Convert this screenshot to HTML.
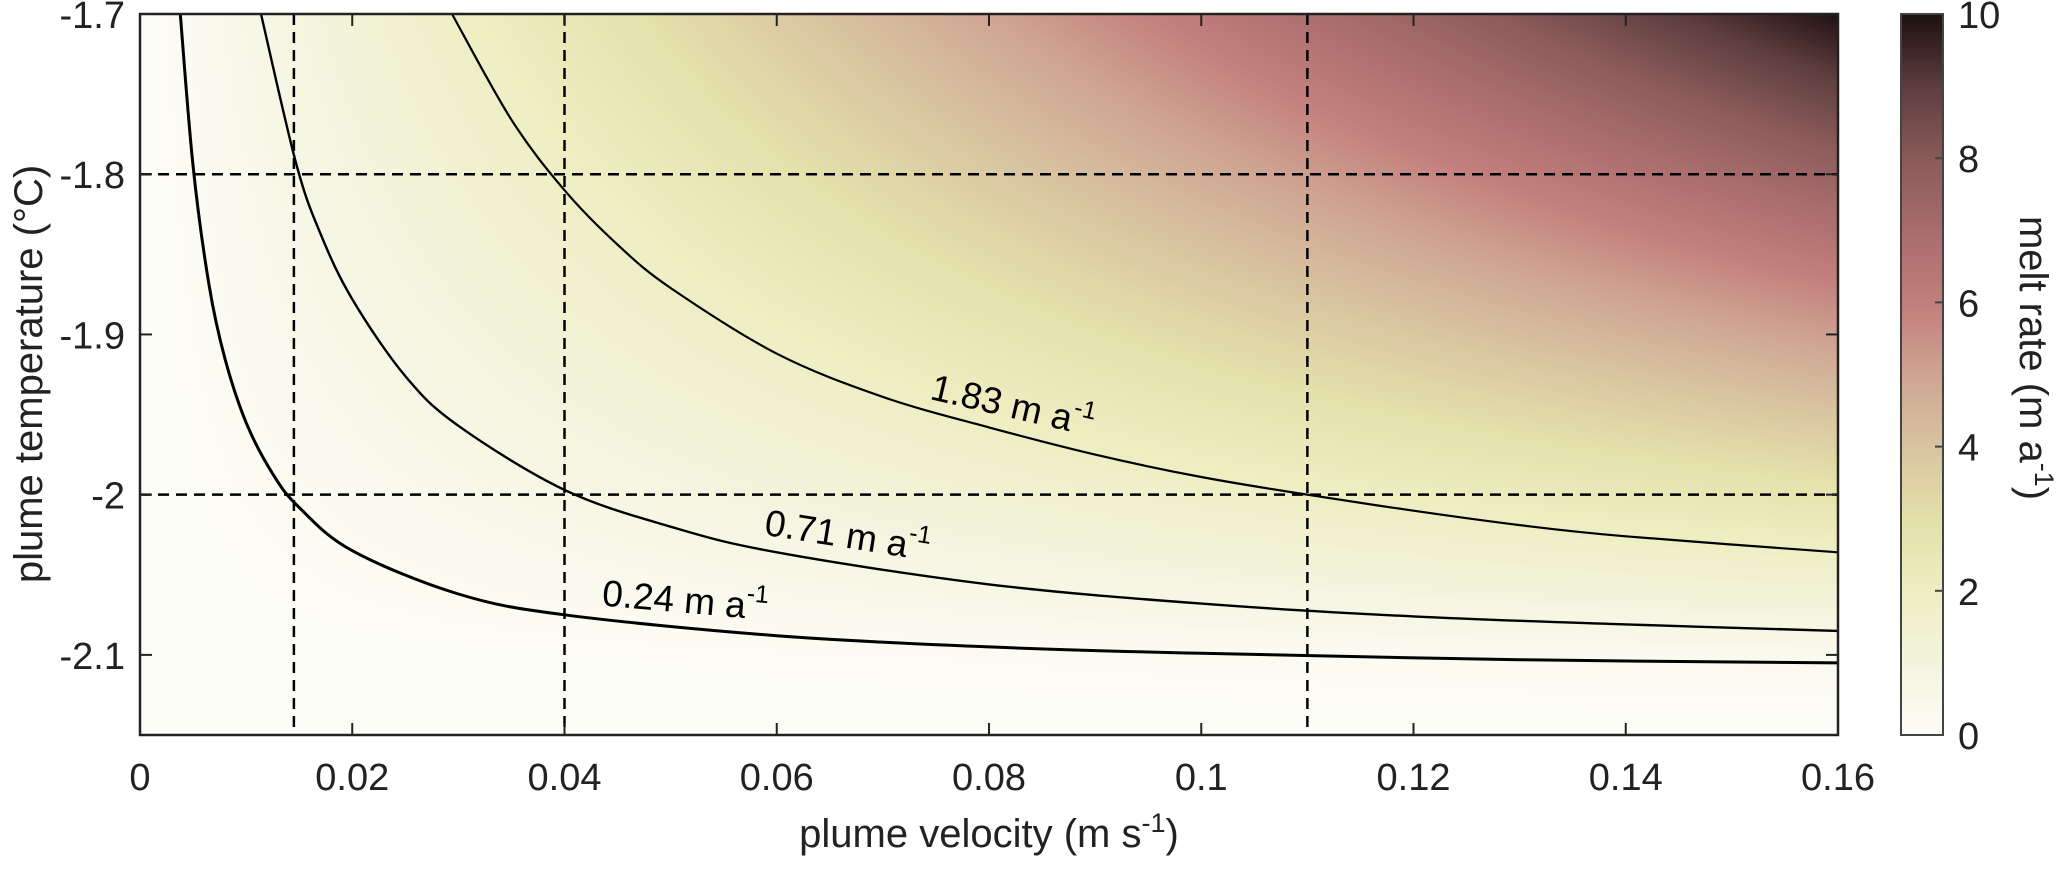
<!DOCTYPE html>
<html><head><meta charset="utf-8">
<style>
html,body{margin:0;padding:0;background:#fff;}
#wrap{position:relative;width:2067px;height:870px;overflow:hidden;font-family:"Liberation Sans",Arial,sans-serif;}
canvas{position:absolute;}
svg{position:absolute;left:0;top:0;}
</style></head>
<body>
<div id="wrap">
<canvas id="heat"></canvas>
<canvas id="cbar"></canvas>
<svg id="svg" width="2067" height="870"></svg>
</div>
<script>
// ---- data ----
const uGrid = [0,0.02,0.04,0.06,0.08,0.10,0.12,0.14,0.16];
const tGrid = [-1.7,-1.75,-1.8,-1.85,-1.9,-1.95,-2.0,-2.05,-2.1,-2.15];
const meltGrid = [
 [0,1.25,2.49,3.74,4.98,6.23,7.47,8.72,9.96],
 [0,1.10,2.19,3.29,4.38,5.48,6.57,7.67,8.76],
 [0,0.95,1.89,2.84,3.78,4.73,5.67,6.62,7.56],
 [0,0.80,1.59,2.39,3.18,3.98,4.77,5.57,6.36],
 [0,0.65,1.29,1.94,2.58,3.23,3.87,4.52,5.16],
 [0,0.50,0.99,1.49,1.98,2.48,2.97,3.47,3.96],
 [0,0.35,0.69,1.04,1.38,1.73,2.07,2.42,2.76],
 [0,0.20,0.39,0.59,0.78,0.98,1.17,1.37,1.56],
 [0,0.05,0.09,0.14,0.18,0.23,0.27,0.32,0.36],
 [0,0,0,0,0,0,0,0,0]
];
const cmapValues = [0,1,2,3,4,5,6,7,8,9,10];
const cmapColors = ['#fdfdf8','#f4f4de','#eeeec2','#e4e0aa','#d8c4a0','#cfa592','#c27e7c','#a86d6c','#8a5a5a','#5e3e3e','#1e1010'];
const c024U = [0.0038,0.005,0.0065,0.008,0.01,0.0125,0.015,0.02,0.03,0.04,0.06,0.08,0.10,0.13,0.16];
const c024T = [-1.7,-1.795,-1.869,-1.915,-1.955,-1.987,-2.008,-2.035,-2.062,-2.075,-2.088,-2.095,-2.099,-2.103,-2.105];
const c071U = [0.0114,0.0147,0.017,0.02,0.025,0.03,0.04,0.05,0.06,0.08,0.10,0.12,0.14,0.16];
const c071T = [-1.7,-1.793,-1.837,-1.878,-1.926,-1.957,-1.997,-2.020,-2.036,-2.056,-2.068,-2.076,-2.081,-2.085];
const c183U = [0.0294,0.035,0.04,0.045,0.05,0.06,0.07,0.08,0.09,0.10,0.11,0.12,0.13,0.14,0.16];
const c183T = [-1.7,-1.766,-1.81,-1.844,-1.871,-1.912,-1.939,-1.958,-1.975,-1.989,-2.0,-2.01,-2.019,-2.026,-2.036];
const refU = [0.0145,0.04,0.11];
const refT = [-1.8,-2.0];
const xTicks = [0,0.02,0.04,0.06,0.08,0.1,0.12,0.14,0.16];
const xTickLabels = ['0','0.02','0.04','0.06','0.08','0.1','0.12','0.14','0.16'];
const yTicks = [-1.7,-1.8,-1.9,-2.0,-2.1];
const yTickLabels = ['-1.7','-1.8','-1.9','-2','-2.1'];
const cTicks = [0,2,4,6,8,10];
const cTickLabels = ['0','2','4','6','8','10'];

// ---- layout ----
const L=140,R=1838,T=14,B=735;
const CL=1901,CR=1943;
const xS=u=>L+(u-0)/0.16*(R-L);
const yS=t=>T+(-1.7-t)/0.45*(B-T);
const cS=v=>B-(v/10)*(B-T);
const NS='http://www.w3.org/2000/svg';
const svg=document.getElementById('svg');
function mk(tag,attrs,parent){const e=document.createElementNS(NS,tag);for(const k in attrs)e.setAttribute(k,attrs[k]);(parent||svg).appendChild(e);return e;}

function hex(c){return [parseInt(c.substr(1,2),16),parseInt(c.substr(3,2),16),parseInt(c.substr(5,2),16)];}
const cmapRGB=cmapColors.map(hex);
function cmap(v){v=Math.max(0,Math.min(10,v));let i=0;while(i<cmapValues.length-2&&v>cmapValues[i+1])i++;
 const f=(v-cmapValues[i])/(cmapValues[i+1]-cmapValues[i]);const a=cmapRGB[i],b=cmapRGB[i+1];
 return [a[0]+(b[0]-a[0])*f,a[1]+(b[1]-a[1])*f,a[2]+(b[2]-a[2])*f];}
function interp(arr,v){let i=0;while(i<arr.length-2&&((arr[1]>arr[0])?v>arr[i+1]:v<arr[i+1]))i++;return [i,(v-arr[i])/(arr[i+1]-arr[i])];}

// heatmap
const hc=document.getElementById('heat');
hc.style.left=L+'px';hc.style.top=T+'px';hc.width=R-L;hc.height=B-T;
const hx=hc.getContext('2d');const img=hx.createImageData(hc.width,hc.height);
for(let py=0;py<hc.height;py++){const t=-1.7-(py/(hc.height))*0.45;const [j,fj]=interp(tGrid,t);
 for(let px=0;px<hc.width;px++){const u=px/hc.width*0.16;const [i,fi]=interp(uGrid,u);
  const v=(meltGrid[j][i]*(1-fi)+meltGrid[j][i+1]*fi)*(1-fj)+(meltGrid[j+1][i]*(1-fi)+meltGrid[j+1][i+1]*fi)*fj;
  const c=cmap(v);const k=(py*hc.width+px)*4;img.data[k]=c[0];img.data[k+1]=c[1];img.data[k+2]=c[2];img.data[k+3]=255;}}
hx.putImageData(img,0,0);

// colorbar
const cc=document.getElementById('cbar');
cc.style.left=CL+'px';cc.style.top=T+'px';cc.width=CR-CL;cc.height=B-T;
const cx=cc.getContext('2d');
for(let py=0;py<cc.height;py++){const c=cmap(10-py/cc.height*10);cx.fillStyle='rgb('+c.map(Math.round).join(',')+')';cx.fillRect(0,py,cc.width,1);}

// dashed ref lines
refU.forEach(u=>{const l=mk('line',{x1:xS(u),x2:xS(u),y1:T,y2:B,stroke:'#000','stroke-width':2.5,'stroke-dasharray':'11 7'});
 
 });
refT.forEach(t=>{const l=mk('line',{x1:L,x2:R,y1:yS(t),y2:yS(t),stroke:'#000','stroke-width':2.5,'stroke-dasharray':'11 7'});
 
 });

// contours (smoothed with Catmull-Rom)
function curve(us,ts,w,name){
 const P=us.map((u,i)=>[xS(u),yS(ts[i])]);
 let d='M'+P[0][0].toFixed(1)+','+P[0][1].toFixed(1);
 for(let i=0;i<P.length-1;i++){const p0=P[Math.max(0,i-1)],p1=P[i],p2=P[i+1],p3=P[Math.min(P.length-1,i+2)];
  const c1=[p1[0]+(p2[0]-p0[0])/6,p1[1]+(p2[1]-p0[1])/6],c2=[p2[0]-(p3[0]-p1[0])/6,p2[1]-(p3[1]-p1[1])/6];
  d+='C'+c1[0].toFixed(1)+','+c1[1].toFixed(1)+' '+c2[0].toFixed(1)+','+c2[1].toFixed(1)+' '+p2[0].toFixed(1)+','+p2[1].toFixed(1);}
 const p=mk('path',{d:d,fill:'none',stroke:'#000','stroke-width':w,'stroke-linejoin':'round'});
 
 }
curve(c024U,c024T,3,'contour-0-24');
curve(c071U,c071T,2.4,'contour-0-71');
curve(c183U,c183T,2.2,'contour-1-83');

// contour labels
function clabel(txt,x,y,rot,name){const g=mk('text',{x:x,y:y,'text-anchor':'middle','dominant-baseline':'middle','font-size':37,fill:'#000',transform:'rotate('+rot+' '+x+' '+y+')','font-family':'Liberation Sans, sans-serif'});
 
 
 g.innerHTML=txt+' m a<tspan dy="-14" font-size="25">-1</tspan>';}
clabel('1.83',1012,408,13,'label-1-83');
clabel('0.71',847,538,9,'label-0-71');
clabel('0.24',685,603,5,'label-0-24');

// axes box
const box=mk('rect',{x:L,y:T,width:R-L,height:B-T,fill:'none',stroke:'#222','stroke-width':2.5});


const cb=mk('rect',{x:CL,y:T,width:CR-CL,height:B-T,fill:'none',stroke:'#444','stroke-width':2});



// ticks
xTicks.forEach((u,i)=>{const x=xS(u);mk('line',{x1:x,x2:x,y1:B,y2:B-12,stroke:'#222','stroke-width':2});mk('line',{x1:x,x2:x,y1:T,y2:T+12,stroke:'#222','stroke-width':2});
 const t=mk('text',{x:x,y:790,'text-anchor':'middle','font-size':38,fill:'#222'});t.textContent=xTickLabels[i];
 
 });
yTicks.forEach((v,i)=>{const y=yS(v);mk('line',{x1:L,x2:L+12,y1:y,y2:y,stroke:'#222','stroke-width':2});mk('line',{x1:R,x2:R-12,y1:y,y2:y,stroke:'#222','stroke-width':2});
 const t=mk('text',{x:125,y:y+14,'text-anchor':'end','font-size':38,fill:'#222'});t.textContent=yTickLabels[i];
 
 });
cTicks.forEach((v,i)=>{const y=cS(v);mk('line',{x1:CR,x2:CR-8,y1:y,y2:y,stroke:'#444','stroke-width':2});
 const t=mk('text',{x:1958,y:y+14,'text-anchor':'start','font-size':38,fill:'#222'});t.textContent=cTickLabels[i];
 
 });

// axis titles
const xt=mk('text',{x:989,y:847,'text-anchor':'middle','font-size':40,fill:'#222'});


xt.innerHTML='plume velocity (m s<tspan dy="-15" font-size="27">-1</tspan><tspan dy="15">)</tspan>';
const yt=mk('text',{x:0,y:0,'text-anchor':'middle','font-size':40,fill:'#222',transform:'translate(42,374) rotate(-90)'});


yt.textContent='plume temperature (°C)';
const ct=mk('text',{x:0,y:0,'text-anchor':'middle','font-size':40,fill:'#222',transform:'translate(2020,358) rotate(90)'});


ct.innerHTML='melt rate (m a<tspan dy="-15" font-size="27">-1</tspan><tspan dy="15">)</tspan>';
</script>
</body></html>
